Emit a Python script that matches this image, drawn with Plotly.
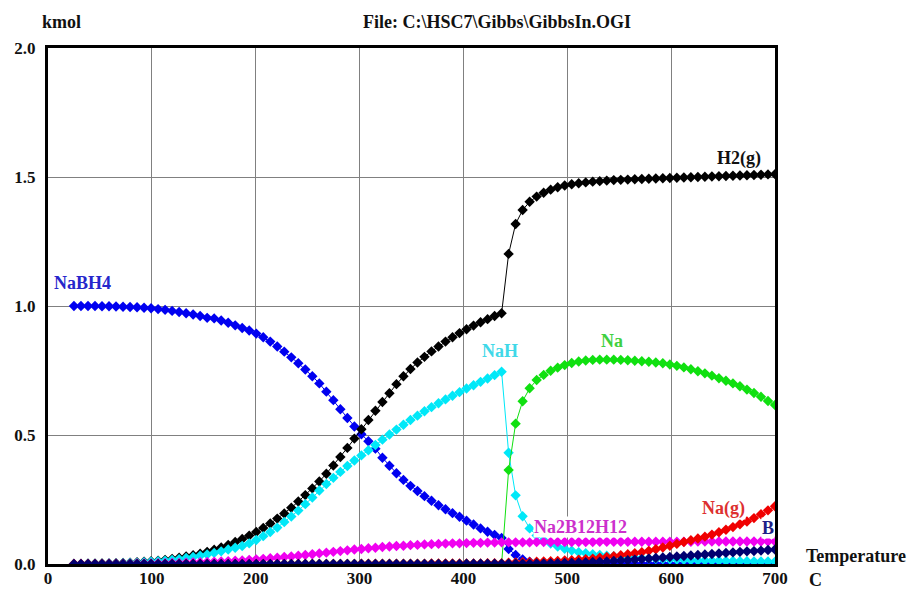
import plotly.graph_objects as go

# Temperature grid (C)
T = [25 + 6.75 * i for i in range(101)]

NaBH4 = [1.000, 1.000, 1.000, 1.000, 0.999, 0.999, 0.998, 0.997, 0.996, 0.995,
         0.993, 0.991, 0.988, 0.985, 0.981, 0.977, 0.972, 0.967, 0.961, 0.954,
         0.952, 0.944, 0.935, 0.925, 0.915, 0.905, 0.893, 0.879, 0.862, 0.843,
         0.823, 0.801, 0.778, 0.754, 0.728, 0.700, 0.668, 0.635, 0.600, 0.566,
         0.533, 0.503, 0.476, 0.447, 0.412, 0.381, 0.352, 0.326, 0.303, 0.283,
         0.263, 0.245, 0.228, 0.212, 0.197, 0.183, 0.168, 0.153, 0.138, 0.125,
         0.113, 0.101, 0.058, 0.035, 0.018, 0.009, 0.005, 0.003, 0.002, 0.001,
         0.000, 0.000, 0.000, 0.000, 0.000, 0.000, 0.000, 0.000, 0.000, 0.000,
         0.000, 0.000, 0.000, 0.000, 0.000, 0.000, 0.000, 0.000, 0.000, 0.000,
         0.000, 0.000, 0.000, 0.000, 0.000, 0.000, 0.000, 0.000, 0.000, 0.000,
         0.000]

H2g = [0.000, 0.000, 0.001, 0.001, 0.002, 0.002, 0.003, 0.004, 0.005, 0.007,
       0.009, 0.011, 0.013, 0.016, 0.020, 0.024, 0.029, 0.034, 0.040, 0.047,
       0.055, 0.064, 0.074, 0.085, 0.097, 0.110, 0.124, 0.140, 0.157, 0.176,
       0.196, 0.218, 0.242, 0.267, 0.293, 0.320, 0.350, 0.382, 0.415, 0.450,
       0.486, 0.522, 0.558, 0.594, 0.628, 0.662, 0.697, 0.728, 0.756, 0.781,
       0.803, 0.824, 0.843, 0.862, 0.879, 0.895, 0.910, 0.924, 0.937, 0.949,
       0.961, 0.972, 1.202, 1.318, 1.372, 1.404, 1.424, 1.439, 1.451, 1.460,
       1.467, 1.472, 1.476, 1.479, 1.482, 1.484, 1.486, 1.488, 1.489, 1.490,
       1.491, 1.492, 1.493, 1.494, 1.495, 1.496, 1.497, 1.498, 1.499, 1.500,
       1.501, 1.502, 1.503, 1.504, 1.505, 1.506, 1.507, 1.508, 1.509, 1.510,
       1.511]

NaH = [0.000, 0.000, 0.001, 0.001, 0.001, 0.002, 0.002, 0.003, 0.004, 0.005,
       0.007, 0.009, 0.011, 0.013, 0.016, 0.019, 0.023, 0.027, 0.032, 0.037,
       0.043, 0.049, 0.056, 0.063, 0.070, 0.080, 0.093, 0.108, 0.124, 0.141,
       0.163, 0.184, 0.207, 0.232, 0.258, 0.285, 0.310, 0.334, 0.357, 0.380,
       0.401, 0.421, 0.441, 0.461, 0.482, 0.502, 0.521, 0.540, 0.558, 0.575,
       0.592, 0.608, 0.623, 0.638, 0.652, 0.666, 0.680, 0.693, 0.706, 0.719,
       0.732, 0.745, 0.431, 0.266, 0.185, 0.138, 0.110, 0.092, 0.079, 0.068,
       0.059, 0.052, 0.046, 0.042, 0.038, 0.035, 0.032, 0.030, 0.028, 0.026,
       0.024, 0.022, 0.021, 0.020, 0.019, 0.018, 0.017, 0.016, 0.015, 0.014,
       0.014, 0.013, 0.013, 0.012, 0.012, 0.011, 0.011, 0.010, 0.010, 0.010,
       0.009]

Na = [0.000] * 62 + [
      0.364, 0.544, 0.631, 0.681, 0.713, 0.733, 0.749, 0.761,
      0.771, 0.779, 0.785, 0.789, 0.791, 0.792, 0.792, 0.792, 0.791, 0.790,
      0.788, 0.786, 0.784, 0.781, 0.778, 0.773, 0.768, 0.762, 0.755, 0.747,
      0.739, 0.730, 0.720, 0.710, 0.700, 0.689, 0.676, 0.663, 0.648, 0.632,
      0.616]

Na2B12H12 = [0.000, 0.000, 0.000, 0.000, 0.000, 0.001, 0.001, 0.001, 0.001, 0.002,
             0.002, 0.002, 0.003, 0.003, 0.004, 0.004, 0.005, 0.006, 0.007, 0.008,
             0.009, 0.010, 0.011, 0.013, 0.014, 0.016, 0.018, 0.020, 0.022, 0.024,
             0.027, 0.029, 0.032, 0.035, 0.038, 0.041, 0.044, 0.047, 0.050, 0.053,
             0.056, 0.058, 0.061, 0.063, 0.066, 0.068, 0.070, 0.071, 0.073, 0.074,
             0.076, 0.077, 0.078, 0.079, 0.080, 0.080, 0.081, 0.082, 0.082, 0.083,
             0.083, 0.084, 0.084, 0.084, 0.084, 0.084, 0.085, 0.085, 0.085, 0.085,
             0.085, 0.085, 0.085, 0.085, 0.085, 0.086, 0.086, 0.086, 0.086, 0.086,
             0.086, 0.086, 0.086, 0.086, 0.086, 0.086, 0.086, 0.086, 0.086, 0.087,
             0.087, 0.087, 0.087, 0.087, 0.087, 0.087, 0.087, 0.087, 0.087, 0.087,
             0.087]

Na_g = [0.000] * 41 + [
        0.001, 0.001, 0.001, 0.001, 0.001, 0.001, 0.001, 0.001, 0.001,
        0.001, 0.002, 0.002, 0.002, 0.002, 0.002, 0.002, 0.002, 0.002, 0.003,
        0.003, 0.003, 0.005, 0.006, 0.007, 0.008, 0.009, 0.010, 0.011, 0.012,
        0.014, 0.015, 0.017, 0.019, 0.021, 0.024, 0.027, 0.030, 0.034, 0.038,
        0.042, 0.046, 0.051, 0.057, 0.064, 0.071, 0.078, 0.085, 0.092, 0.099,
        0.106, 0.114, 0.123, 0.133, 0.143, 0.154, 0.165, 0.178, 0.193, 0.208,
        0.224]

B = [0.000] * 56 + [
     0.001, 0.001, 0.001, 0.001, 0.001, 0.001, 0.001, 0.001, 0.001, 0.001,
     0.002, 0.002, 0.003, 0.003, 0.004, 0.005, 0.006, 0.007, 0.008, 0.009,
     0.010, 0.012, 0.014, 0.015, 0.017, 0.019, 0.021, 0.023, 0.025, 0.027,
     0.029, 0.031, 0.033, 0.035, 0.037, 0.039, 0.041, 0.043, 0.045, 0.047,
     0.049, 0.050, 0.052, 0.054, 0.056]

x_ticks = [0, 100, 200, 300, 400, 500, 600, 700]
y_ticks = [0.0, 0.5, 1.0, 1.5, 2.0]

series = [
    ("NaBH4", NaBH4, "#0000F0"),
    ("H2(g)", H2g, "#000000"),
    ("NaH", NaH, "#00E8F8"),
    ("Na", Na, "#10E010"),
    ("Na2B12H12", Na2B12H12, "#F000F0"),
    ("Na(g)", Na_g, "#F00000"),
    ("B", B, "#000070"),
]

FONT = "Liberation Serif, Times New Roman, serif"

fig = go.Figure()
for name, vals, col in series:
    fig.add_trace(go.Scatter(
        x=T, y=vals, mode="lines+markers", name=name,
        line=dict(color=col, width=1),
        marker=dict(symbol="diamond", size=8, color=col),
        showlegend=False, cliponaxis=True,
    ))

# label positions in paper coordinates
labels = [
    ("NaBH4", 0.048, 0.545, "#2626CC"),
    ("H2(g)", 0.951, 0.785, "#111111"),
    ("NaH", 0.622, 0.413, "#40D8E8"),
    ("Na", 0.776, 0.432, "#40D040"),
    ("Na2B12H12", 0.7325, 0.072, "#CC30CC"),
    ("Na(g)", 0.929, 0.1085, "#DD3030"),
    ("B", 0.990, 0.070, "#202088"),
    ("Temperature", 1.112, 0.0155, "#111111"),
    ("C", 1.056, -0.031, "#111111"),
    ("kmol", 0.0186, 1.0504, "#111111"),
    ("File: C:\\HSC7\\Gibbs\\GibbsIn.OGI", 0.617, 1.0504, "#111111"),
]
for txt, px, py, col in labels:
    fig.add_annotation(
        x=px, y=py, xref="paper", yref="paper", text=txt, showarrow=False,
        xanchor="center", yanchor="middle",
        font=dict(family=FONT, size=18, color=col, weight="bold"),
        bgcolor="white" if py < 1 and px < 1 else None, borderpad=0,
    )

axis_common = dict(
    showgrid=True, gridcolor="#808080", gridwidth=1,
    showline=True, linecolor="black", linewidth=3, mirror=True,
    zeroline=False, ticks="",
    tickfont=dict(family=FONT, size=17, color="#111111", weight="bold"),
)
fig.update_xaxes(range=[0, 700], tickvals=x_ticks,
                 ticktext=[str(v) for v in x_ticks],
                 ticklabelstandoff=-3, **axis_common)
fig.update_yaxes(range=[0, 2], tickvals=y_ticks,
                 ticktext=[f"{v:.1f}" for v in y_ticks],
                 ticklabelstandoff=6, **axis_common)

fig.update_layout(
    width=909, height=590,
    margin=dict(l=48, r=134, t=48, b=26, autoexpand=False),
    plot_bgcolor="white", paper_bgcolor="white",
)
fig.write_html("out.html")
